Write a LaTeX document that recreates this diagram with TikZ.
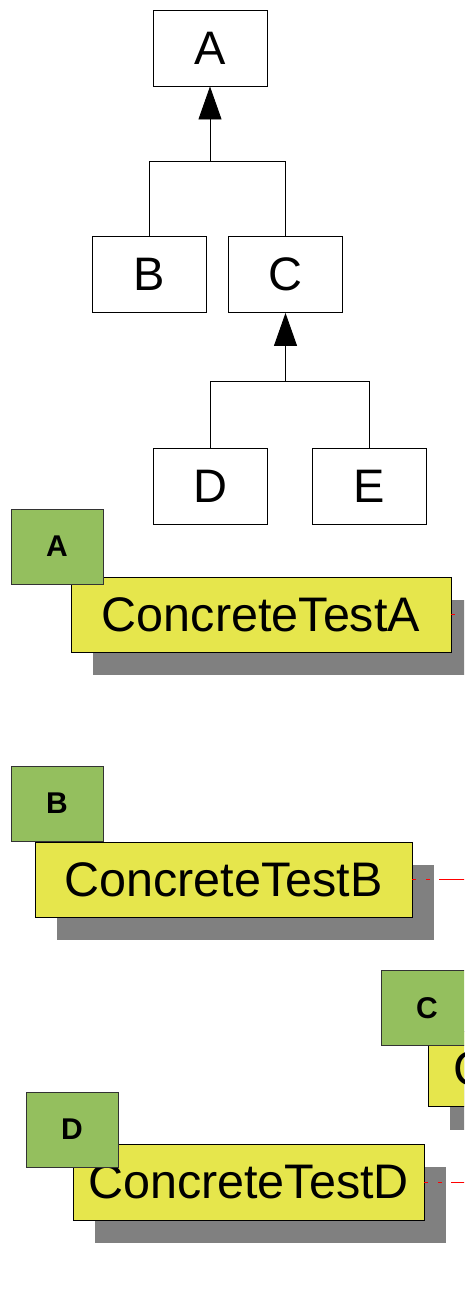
\documentclass[tikz,border=0pt]{standalone}
\usepackage{fontspec}
\setmainfont{Liberation Sans}
\usetikzlibrary{arrows.meta,shadows}
\definecolor{grn}{HTML}{94BF5E}
\definecolor{ylw}{HTML}{E6E64C}
\definecolor{shd}{HTML}{808080}
\begin{document}
\begin{tikzpicture}[x=1pt,y=-1pt,
 cls/.style={draw=black, line width=0.9pt, fill=white, minimum width=114pt, minimum height=76pt, inner sep=0pt, font=\fontsize{47}{50}\selectfont},
 inh/.style={line width=0.9pt, -{Triangle[length=33pt,width=23pt]}},
 link/.style={line width=0.9pt},
 tag/.style={draw=black!80, line width=0.9pt, fill=grn, minimum width=92pt, minimum height=75pt, inner sep=0pt, font=\fontsize{30}{32}\selectfont\bfseries},
 test/.style={draw=black, line width=0.9pt, fill=ylw, minimum height=75pt, inner sep=0pt, font=\fontsize{48.5}{52}\selectfont, drop shadow={shadow xshift=22pt, shadow yshift=-23pt, opacity=1, fill=shd, draw=none}},
 trace/.style={red, line width=0.7pt, dash pattern=on 4pt off 10pt on 4pt off 9pt on 300pt off 4pt}]
\useasboundingbox (0,0) rectangle (464,1306);
\clip (0,0) rectangle (464,1306);
% class tree
\node[cls] (A) at (210,48) {A};
\node[cls] (B) at (149,274.5) {B};
\node[cls] (C) at (285.5,274.5) {C};
\node[cls] (D) at (210,486.5) {D};
\node[cls] (E) at (369,486.5) {E};
\coordinate (j1) at (210,161);
\coordinate (j2) at (285.5,381);
\draw[link] (B.north) |- (j1);
\draw[link] (C.north) |- (j1);
\draw[inh] (j1) -- (A.south);
\draw[link] (D.north) |- (j2);
\draw[link] (E.north) |- (j2);
\draw[inh] (j2) -- (C.south);
% tests
\node[test, minimum width=380pt] (TA) at (261,614.5) {ConcreteTestA};
\node[test, minimum width=377pt] (TB) at (223.5,879.5) {ConcreteTestB};
\node[test, minimum width=372pt] (TC) at (614,1069) {ConcreteTestC};
\node[test, minimum width=351pt, minimum height=76pt] (TD) at (248.5,1182) {ConcreteTestD};
\coordinate (rA) at (520,614.5);
\coordinate (rB) at (520,879.5);
\coordinate (rD) at (520,1182);
\draw[trace] (TA.east) -- (rA);
\draw[trace] (TB.east) -- (rB);
\draw[trace] (TD.east) -- (rD);
\node[tag] (gA) at (57,546.5) {A};
\node[tag] (gB) at (57,803.5) {B};
\node[tag] (gC) at (427,1008) {C};
\node[tag] (gD) at (72,1129.5) {D};
\end{tikzpicture}
\end{document}
